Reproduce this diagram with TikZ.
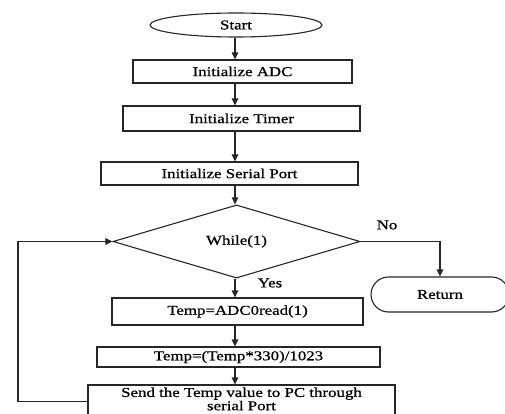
\documentclass[tikz,border=0pt]{standalone}
\usepackage{fontspec}
\setmainfont[FakeStretch=1.25,FakeBold=0.8]{Liberation Serif}
\usetikzlibrary{shapes.geometric,shapes.misc,arrows.meta}
\begin{document}
\begin{tikzpicture}[x=1pt,y=-1pt,
  line width=1.1pt,
  every node/.style={font=\fontsize{13.5}{11.5}\selectfont, text=black},
  box/.style={draw=black!85, rectangle, inner sep=0pt, align=center},
  arr/.style={draw=black!85, -{Triangle[length=7pt,width=6.5pt]}},
]
\useasboundingbox (0,0) rectangle (505,414);
\coordinate (axis) at (235,0);
\coordinate (lx) at (18,0);

% program steps
\node[box, ellipse, minimum width=172pt, minimum height=24pt] (start) at (236,25) {Start};
\node[box, minimum width=219pt, minimum height=23pt] (adc) at (242.5,71.5) {Initialize ADC};
\node[box, minimum width=237pt, minimum height=25pt] (timer) at (241.5,118.5) {Initialize Timer};
\node[box, minimum width=257pt, minimum height=23pt] (serial) at (229.5,173.5) {Initialize Serial Port};
\node[box, diamond, minimum width=247pt, minimum height=53pt] (dia) at (236.5,241.5) {While(1)};
\node[box, rounded rectangle, minimum width=138pt, minimum height=35pt] (ret) at (440,294.5) {Return};
\node[box, minimum width=251pt, minimum height=27pt] (read) at (237.5,311.5) {Temp=ADC0read(1)};
\node[box, minimum width=283pt, minimum height=20pt] (calc) at (238.5,357) {Temp=(Temp*330)/1023};
\node[box, minimum width=307pt, minimum height=33pt] (send) at (241.5,401.5) {};
\node[align=center, inner sep=0pt, anchor=north] (sendtext) at (241.5,387) {Send the Temp value to PC through\\serial Port};

% branch labels
\node (yes) at (270,283) {Yes};
\node (no) at (387,225) {No};

% main flow
\draw[arr] (start.south -| axis) -- (adc.north -| axis);
\draw[arr] (adc.south -| axis) -- (timer.north -| axis);
\draw[arr] (timer.south -| axis) -- (serial.north -| axis);
\draw[arr] (serial.south -| axis) -- (dia.north -| axis);
\draw[arr] (dia.south -| axis) -- (read.north -| axis);
\draw[arr] (read.south -| axis) -- (calc.north -| axis);
\draw[arr] (calc.south -| axis) -- (send.north -| axis);

% exit branch
\draw[arr] (dia.east) -| (ret.north);

% loop back to the condition
\draw[arr] (send.west) -- (send.west -| lx) -- (lx |- dia.west) -- (dia.west);
\end{tikzpicture}
\end{document}
